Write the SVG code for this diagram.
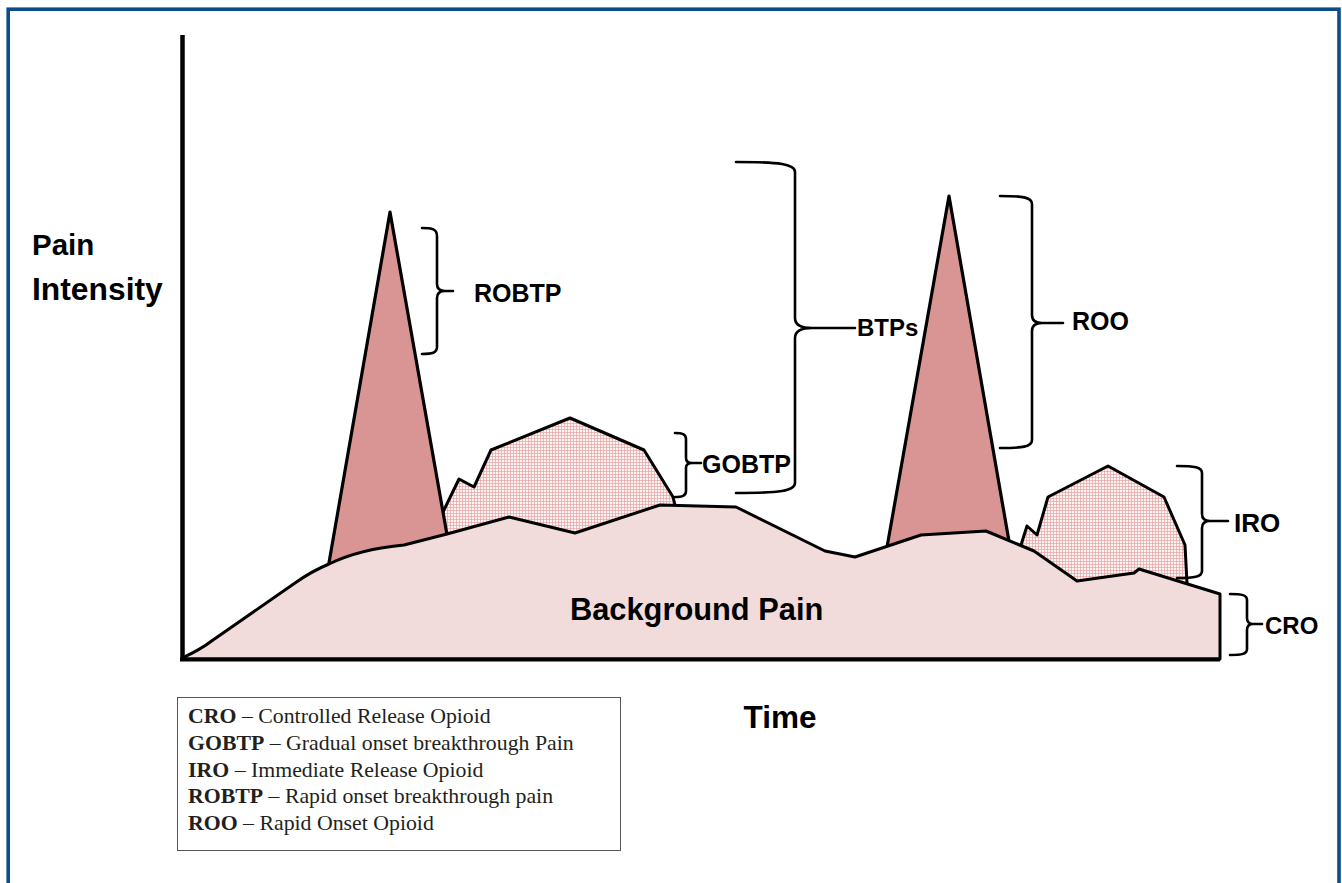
<svg xmlns="http://www.w3.org/2000/svg" width="1342" height="883" viewBox="0 0 1342 883">
<style>
.lbl{font-family:"Liberation Sans",Arial,sans-serif;font-weight:bold;fill:#000}
.leg{font-family:"Liberation Serif","Times New Roman",serif;font-size:21.8px;fill:#231f20}
.leg .b{font-weight:bold}
.br{fill:none;stroke:#000;stroke-width:2.6;stroke-linejoin:round;stroke-linecap:round}
.ol{fill:none;stroke:#000;stroke-width:3;stroke-linejoin:round}
.spike{fill:#d99594;stroke:#000;stroke-width:3.2;stroke-linejoin:round}
</style>
<defs>
<pattern id="grid" width="3" height="3" patternUnits="userSpaceOnUse">
<rect width="3" height="3" fill="#fdf4f4"/>
<path d="M0 0.4H3M0.4 0V3" stroke="#e8a2a2" stroke-width="0.8"/>
</pattern>
</defs>
<rect width="1342" height="883" fill="#fff"/>
<rect id="frame" x="8.2" y="9.2" width="1330.8" height="900" fill="none" stroke="#0b4d8a" stroke-width="3.6"/>

<g id="gobtp">
<polygon points="443,512 459,479 474,487 491,450 570,418 644,450 673,497 675,505 675,560 440,560" fill="url(#grid)"/>
<polyline class="ol" points="443,512 459,479 474,487 491,450 570,418 644,450 673,497 675,505"/>
</g>
<g id="iro">
<polygon points="1021,545 1027,526 1037,535 1048,497 1108,466 1164,497 1185,545 1187,583 1187,600 1015,600" fill="url(#grid)"/>
<polyline class="ol" points="1021,545 1027,526 1037,535 1048,497 1108,466 1164,497 1185,545 1187,583"/>
</g>
<g id="robtp">
<polygon class="spike" points="390,212 326,580 455,580"/>
</g>
<g id="roo">
<polygon class="spike" points="949,196 883,570 1014,570"/>
</g>
<g id="background">
<path d="M182,658 Q200,650 213,640 L295,583 Q312,571 329,564 Q360,549 404,545 L447,534 L509,517 L575,533 L660,505 L736,507 L825,551 L855,557 L921,535 L986,531 L1034,551 L1077,581 L1134,573 L1139,569 L1220,594 L1220,659 L182,659 Z" fill="#f2dcdb" stroke="#000" stroke-width="3" stroke-linejoin="round"/>
<text class="lbl" x="570" y="620" font-size="30.8">Background Pain</text>
</g>
<g id="axes">
<line x1="182.5" y1="35" x2="182.5" y2="661" stroke="#000" stroke-width="4.5"/>
<line x1="180" y1="659.5" x2="1220" y2="659.5" stroke="#000" stroke-width="4"/>
<text class="lbl" x="32" y="255" font-size="29.5">Pain</text>
<text class="lbl" x="32" y="300" font-size="31.8">Intensity</text>
<text class="lbl" x="780" y="728" font-size="31.5" text-anchor="middle">Time</text>
</g>
<g id="brackets">
<g id="br-robtp">
<path class="br" d="M422,228 C432,228 437,229 437,236 V284 Q437,291 445,291 H453 M445,291 Q437,291 437,298 V347 C437,353 432,354 422,354"/>
<text class="lbl" x="474" y="302" font-size="25">ROBTP</text>
</g>
<g id="br-btps">
<path class="br" d="M736,162 C780,162 795,164 795,172 V318 Q795,328 812,328 H855 M812,328 Q795,328 795,338 V483 C795,491 780,493 736,493"/>
<text class="lbl" x="857" y="336" font-size="24">BTPs</text>
</g>
<g id="br-gobtp">
<path class="br" d="M675,433 C682,433 686,434 686,439 V458 Q686,463 692,463 H701 M692,463 Q686,463 686,468 V491 C686,496 682,497 675,497"/>
<text class="lbl" x="702" y="473" font-size="25">GOBTP</text>
</g>
<g id="br-roo">
<path class="br" d="M1000,196 C1022,196 1032,197 1032,204 V315 Q1032,323 1042,323 H1063 M1042,323 Q1032,323 1032,331 V440 C1032,447 1022,448 1000,448"/>
<text class="lbl" x="1072" y="330" font-size="25">ROO</text>
</g>
<g id="br-iro">
<path class="br" d="M1177,466 C1194,466 1202,467 1202,473 V514 Q1202,521 1210,521 H1228 M1210,521 Q1202,521 1202,528 V571 C1202,577 1194,578 1177,578"/>
<text class="lbl" x="1234" y="532" font-size="26">IRO</text>
</g>
<g id="br-cro">
<path class="br" d="M1230,594 C1242,594 1247,595 1247,600 V618 Q1247,624 1253,624 H1262 M1253,624 Q1247,624 1247,630 V649 C1247,654 1242,655 1230,655"/>
<text class="lbl" x="1265" y="634" font-size="24">CRO</text>
</g>
</g>
<g id="legend">
<rect x="177.5" y="697.5" width="443" height="153" fill="#fff" stroke="#555" stroke-width="1"/>
<text class="leg" x="188" y="723"><tspan class="b">CRO</tspan> – Controlled Release Opioid</text>
<text class="leg" x="188" y="750"><tspan class="b">GOBTP</tspan> – Gradual onset breakthrough Pain</text>
<text class="leg" x="188" y="777"><tspan class="b">IRO</tspan> – Immediate Release Opioid</text>
<text class="leg" x="188" y="803"><tspan class="b">ROBTP</tspan> – Rapid onset breakthrough pain</text>
<text class="leg" x="188" y="830"><tspan class="b">ROO</tspan> – Rapid Onset Opioid</text>
</g>
</svg>
